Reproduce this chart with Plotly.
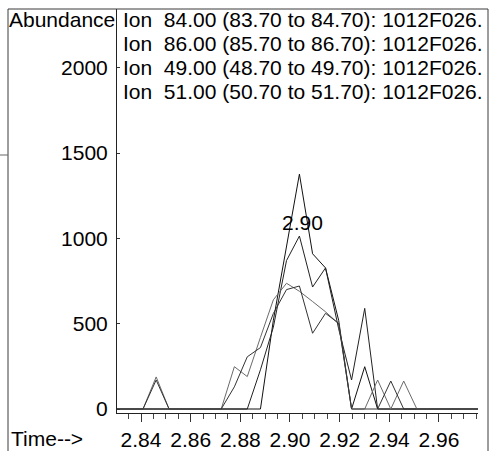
import plotly.graph_objects as go

# Scan times (min) shared by all four extracted-ion traces
scan_times = [
    2.8251, 2.8303, 2.8356, 2.8408, 2.8461, 2.8513, 2.8566, 2.8618, 2.8671,
    2.8723, 2.8776, 2.8828, 2.8881, 2.8933, 2.8986, 2.9038, 2.9091, 2.9143,
    2.9196, 2.9248, 2.9301, 2.9353, 2.9406, 2.9458, 2.9511, 2.9563, 2.9616,
    2.9668, 2.9721, 2.9773,
]

ion_84 = [0, 0, 0, 0, 0, 0, 0, 0, 0, 0, 0, 0, 0, 520, 960, 1377, 910, 827,
          520, 0, 248, 0, 0, 0, 0, 0, 0, 0, 0, 0]
ion_86 = [0, 0, 0, 0, 0, 0, 0, 0, 0, 0, 0, 0, 230, 480, 870, 1014, 715, 827,
          470, 170, 590, 0, 0, 0, 0, 0, 0, 0, 0, 0]
ion_49 = [0, 0, 0, 0, 188, 0, 0, 0, 0, 0, 248, 190, 420, 640, 737, 690, 630,
          570, 500, 0, 0, 170, 0, 164, 0, 0, 0, 0, 0, 0]
ion_51 = [0, 0, 0, 0, 170, 0, 0, 0, 0, 0, 130, 306, 360, 560, 700, 721, 444,
          561, 502, 0, 0, 0, 164, 0, 0, 0, 0, 0, 0, 0]

legend_lines = [
    "Ion\u00a0 84.00 (83.70 to 84.70): 1012F026.",
    "Ion\u00a0 86.00 (85.70 to 86.70): 1012F026.",
    "Ion\u00a0 49.00 (48.70 to 49.70): 1012F026.",
    "Ion\u00a0 51.00 (50.70 to 51.70): 1012F026.",
]

y_ticks = [0, 500, 1000, 1500, 2000]
x_ticks = [2.84, 2.86, 2.88, 2.90, 2.92, 2.94, 2.96]
peak_label = "2.90"
peak_label_pos = (2.9052, 1096)

FONT = "Liberation Sans, Arial, sans-serif"
FS = 21

fig = go.Figure()
for ys, col in [(ion_84, "#111111"), (ion_86, "#222222"),
                (ion_49, "#6a6a6a"), (ion_51, "#333333")]:
    fig.add_trace(go.Scatter(x=scan_times, y=ys, mode="lines",
                             line=dict(color=col, width=1), showlegend=False,
                             hoverinfo="skip"))

W, H = 490, 451
L, R, T, B = 117, 12, 9, 38
pw, ph = W - L - R, H - T - B


def px(xp):
    return (xp - L) / pw


def py(yp):
    return (H - B - yp) / ph


annotations = [
    dict(x=peak_label_pos[0], y=peak_label_pos[1], xref="x", yref="y",
         text=peak_label, showarrow=False, font=dict(size=FS, color="black")),
    dict(x=px(117), y=py(19), xref="paper", yref="paper", text="Abundance",
         showarrow=False, xanchor="right", yanchor="middle",
         font=dict(size=FS, color="black")),
    dict(x=px(9), y=py(438), xref="paper", yref="paper", text="Time-->",
         showarrow=False, xanchor="left", yanchor="middle",
         font=dict(size=FS, color="black")),
]
for i, t in enumerate(legend_lines):
    annotations.append(dict(x=px(121), y=py(19 + 24.3 * i), xref="paper",
                            yref="paper", text=t, showarrow=False,
                            xanchor="left", yanchor="middle",
                            font=dict(size=FS, color="black")))

frame = "#3a3a3a"
shapes = [
    dict(type="line", xref="paper", yref="paper", x0=px(8), x1=px(488),
         y0=py(9), y1=py(9), line=dict(color=frame, width=1)),
    dict(type="line", xref="paper", yref="paper", x0=px(8), x1=px(8),
         y0=py(9), y1=py(460), line=dict(color=frame, width=1)),
    dict(type="line", xref="paper", yref="paper", x0=px(488), x1=px(488),
         y0=py(9), y1=py(460), line=dict(color=frame, width=1)),
    dict(type="line", xref="paper", yref="paper", x0=px(0), x1=px(8),
         y0=py(155), y1=py(155), line=dict(color="#666666", width=1)),
]

fig.update_layout(
    width=W, height=H,
    margin=dict(l=L, r=R, t=T, b=B, pad=0),
    paper_bgcolor="white", plot_bgcolor="white",
    font=dict(family=FONT, size=FS, color="black"),
    annotations=annotations, shapes=shapes,
    xaxis=dict(range=[2.83033, 2.97572], tickvals=x_ticks,
               ticktext=[f"{v:.2f}" for v in x_ticks],
               automargin=False,
               showgrid=False, zeroline=False, showline=True,
               linecolor="#222222", linewidth=1,
               ticks="outside", ticklen=8, tickcolor="#333333",
               minor=dict(dtick=0.005, tick0=2.84, ticks="outside",
                          ticklen=5, tickcolor="#444444"),
               tickfont=dict(size=FS, color="black")),
    yaxis=dict(range=[-23.4, 2344.7], tickvals=y_ticks,
               automargin=False,
               showgrid=False, zeroline=False, showline=True,
               linecolor="#222222", linewidth=1,
               ticks="inside", ticklen=3, tickcolor="#333333",
               ticklabelstandoff=4,
               tickfont=dict(size=FS, color="black")),
)

fig.write_html("out.html")
